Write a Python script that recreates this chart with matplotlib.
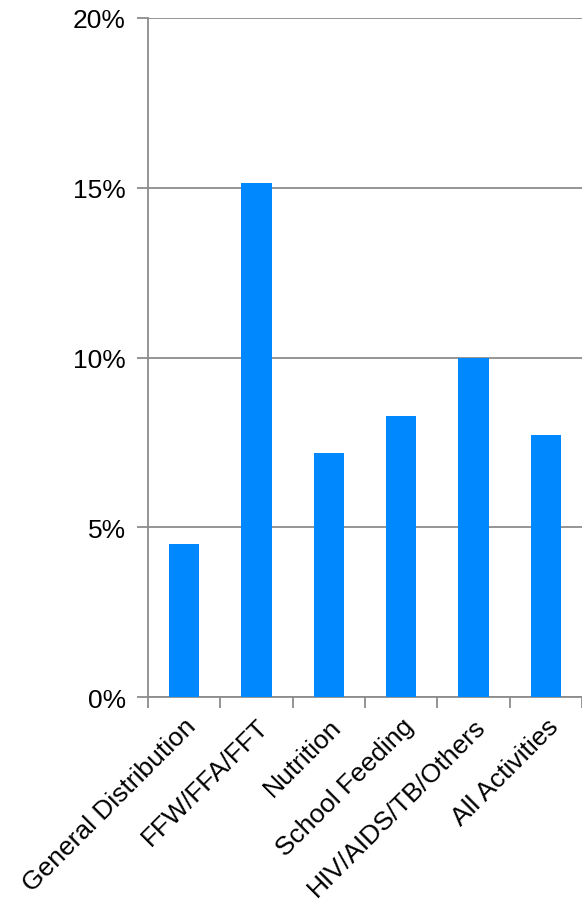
import numpy as np
import matplotlib.pyplot as plt
from matplotlib.ticker import PercentFormatter

categories = ["General Distribution", "FFW/FFA/FFT", "Nutrition", "School Feeding",
              "HIV/AIDS/TB/Others", "All Activities"]
values = [4.5, 15.15, 7.18, 8.27, 9.98, 7.72]

plt.rcParams["font.family"] = ["Liberation Sans", "DejaVu Sans"]

fig = plt.figure(figsize=(5.82, 9.04), dpi=100)
ax = fig.add_axes([0.2543, 0.2278, 0.7457, 0.7512])

x = np.arange(len(categories))
ax.bar(x, values, width=0.42, color="#0088ff", zorder=3)

ax.set_xlim(-0.5, len(categories) - 0.5)
ax.set_ylim(0, 20)
ax.set_yticks([0, 5, 10, 15, 20])
ax.yaxis.set_major_formatter(PercentFormatter(decimals=0))
ax.grid(axis="y", color="#8c8c8c", linewidth=1.3, zorder=0)

# tick marks between categories, labels at bar centres
ax.set_xticks(np.arange(-0.5, len(categories)), [""] * (len(categories) + 1))
ax.set_xticks(x, categories, minor=True, rotation=45, ha="right", rotation_mode="anchor")
ax.tick_params(axis="x", which="major", length=8, width=1.3, color="#8c8c8c")
ax.tick_params(axis="x", which="minor", length=0, pad=12, labelsize=19)
ax.tick_params(axis="y", length=8, width=1.3, color="#8c8c8c", labelsize=19, pad=8)

for side in ["top", "right"]:
    ax.spines[side].set_visible(False)
for side in ["left", "bottom"]:
    ax.spines[side].set_color("#8c8c8c")
    ax.spines[side].set_linewidth(1.3)

fig.savefig("out.png", dpi=100)
